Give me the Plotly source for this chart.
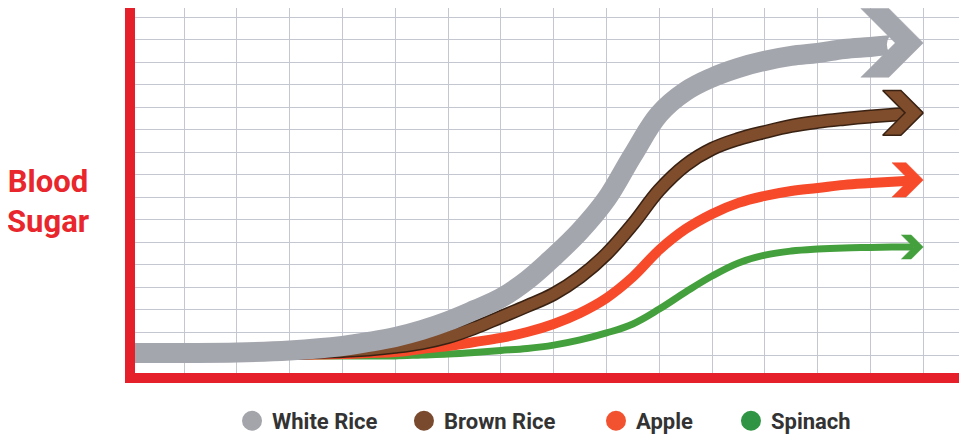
import plotly.graph_objects as go

# ---------------- data ----------------
TIME = [0, 1, 2, 3, 4, 4.5, 5, 5.5, 6, 6.5, 7, 7.5, 8, 8.5, 9, 9.5, 10,
        10.5, 11, 11.5, 12, 12.5, 13, 13.5, 14, 14.5, 15]

WHITE_RICE = [1.09, 1.09, 1.11, 1.20, 1.40, 1.58, 1.80, 2.11, 2.51, 3.00, 3.53, 4.33, 5.36,
              6.51, 7.93, 9.89, 11.71, 12.72, 13.33, 13.76, 14.07, 14.29, 14.42, 14.60,
              14.69, 14.80, 14.87]
BROWN_RICE = [1.09, 1.09, 1.09, 1.09, 1.18, 1.24, 1.36, 1.53, 1.80, 2.20, 2.69, 3.18, 3.71,
              4.47, 5.49, 6.82, 8.33, 9.44, 10.16, 10.60, 10.91, 11.18, 11.36, 11.49,
              11.60, 11.69, 11.76]
APPLE = [1.00, 1.00, 1.00, 1.00, 1.04, 1.09, 1.13, 1.27, 1.40, 1.58, 1.76, 2.02, 2.38,
         2.87, 3.53, 4.47, 5.67, 6.60, 7.27, 7.76, 8.07, 8.29, 8.42, 8.56, 8.64, 8.71, 8.78]
SPINACH = [0.96, 0.96, 0.96, 0.96, 0.96, 0.96, 0.96, 1.00, 1.04, 1.11, 1.20, 1.29, 1.44,
           1.67, 1.98, 2.38, 3.04, 3.80, 4.51, 5.09, 5.44, 5.62, 5.71, 5.76, 5.78, 5.80, 5.80]

SERIES_NAMES = ["White Rice", "Brown Rice", "Apple", "Spinach"]
SERIES_VALUES = [WHITE_RICE, BROWN_RICE, APPLE, SPINACH]
Y_LABEL = "Blood<br>Sugar"

# ---------------- layout / style ----------------
FIG_W, FIG_H = 967, 441
MARGIN = dict(l=127, r=0, t=0, b=76, autoexpand=False)
X_RANGE = [0.07, 15.98]
Y_RANGE = [0.2, 16.42]

PLOT_W = FIG_W - MARGIN["l"] - MARGIN["r"]
PLOT_H = FIG_H - MARGIN["t"] - MARGIN["b"]
PPX = PLOT_W / (X_RANGE[1] - X_RANGE[0])   # pixels per x unit
PPY = PLOT_H / (Y_RANGE[1] - Y_RANGE[0])   # pixels per y unit

STYLE = {
    "White Rice": dict(color="#a4a6ae", width=20, outline=None, legend="#a3a5ab"),
    "Brown Rice": dict(color="#7f4c2c", width=13, outline="#3a2213", legend="#7a4a2e"),
    "Apple": dict(color="#f64a2b", width=10, outline=None, legend="#f2522f"),
    "Spinach": dict(color="#44a03c", width=7, outline=None, legend="#2f9444"),
}
LEGEND_X = {"White Rice": 0.1155, "Brown Rice": 0.3202, "Apple": 0.5488, "Spinach": 0.7095}
LEGEND_IDS = {"White Rice": "legend", "Brown Rice": "legend2", "Apple": "legend3", "Spinach": "legend4"}

AXIS_RED = "#e5202a"
GRID = "#c4c7d0"
FONT = "Roboto, Liberation Sans, sans-serif"

fig = go.Figure()


def head_dims(w):
    return 1.72 * w, 1.72 * w, 1.4 * w   # half-height, front length, arm flat (px)


# draw back-to-front: spinach first, white rice on top
for name, vals in reversed(list(zip(SERIES_NAMES, SERIES_VALUES))):
    st = STYLE[name]
    w = st["width"]
    H, L, F = head_dims(w)
    xt, yt = TIME[-1], vals[-1]
    # shaft ends at the notch of the chevron head
    notch_x = xt - F / PPX
    frac = (notch_x - TIME[-2]) / (TIME[-1] - TIME[-2])
    notch_y = vals[-2] + frac * (vals[-1] - vals[-2])
    sx = TIME[:-1] + [notch_x]
    sy = vals[:-1] + [notch_y]
    if st["outline"]:
        fig.add_trace(go.Scatter(x=sx, y=sy, mode="lines", showlegend=False, hoverinfo="skip",
                                 line=dict(color=st["outline"], width=w + 1, shape="spline", smoothing=1.1)))
        fig.add_trace(go.Scatter(x=sx, y=sy, mode="lines", showlegend=False, hoverinfo="skip",
                                 line=dict(color=st["color"], width=w - 2, shape="spline", smoothing=1.1)))
    else:
        fig.add_trace(go.Scatter(x=sx, y=sy, mode="lines", showlegend=False, hoverinfo="skip",
                                 line=dict(color=st["color"], width=w, shape="spline", smoothing=1.1)))
    # chevron arrow head at the last data point
    pts = [(0, 0), (-L, H), (-L - F, H), (-F, 0), (-L - F, -H), (-L, -H), (0, 0)]
    hx = [xt + dx / PPX for dx, dy in pts]
    hy = [yt + dy / PPY for dx, dy in pts]
    fig.add_trace(go.Scatter(x=hx, y=hy, mode="lines", fill="toself", fillcolor=st["color"],
                             showlegend=False, hoverinfo="skip",
                             line=dict(color=st["outline"] or st["color"], width=1.5 if st["outline"] else 0.5)))

# legend entries (one small legend per food so each sits where the original places it)
legend_layouts = {}
for name in SERIES_NAMES:
    st = STYLE[name]
    lid = LEGEND_IDS[name]
    fig.add_trace(go.Scatter(x=[None], y=[None], mode="markers", name=name, legend=lid,
                             marker=dict(symbol="circle", size=16, color=st["legend"],
                                         line=dict(color=st["legend"], width=4))))
    legend_layouts[lid] = dict(orientation="h", x=LEGEND_X[name], y=-0.1315,
                               xanchor="left", yanchor="middle",
                               font=dict(family=FONT, size=22, color="#333333", weight="bold"),
                               bgcolor="rgba(0,0,0,0)", itemclick=False, itemdoubleclick=False)

fig.add_annotation(text=Y_LABEL, xref="paper", yref="paper", x=-0.1036, y=0.4685,
                   xanchor="center", yanchor="middle", showarrow=False, align="center",
                   font=dict(family=FONT, size=31, color="#e8262c", weight="bold"))

fig.update_xaxes(range=X_RANGE, dtick=1, tick0=0, showgrid=True, gridcolor=GRID, gridwidth=1,
                 showticklabels=False, ticks="", zeroline=False,
                 showline=True, linecolor=AXIS_RED, linewidth=10, fixedrange=True)
fig.update_yaxes(range=Y_RANGE, dtick=1, tick0=0, showgrid=True, gridcolor=GRID, gridwidth=1,
                 showticklabels=False, ticks="", zeroline=False,
                 showline=True, linecolor=AXIS_RED, linewidth=10, fixedrange=True)

fig.update_layout(
    width=FIG_W, height=FIG_H, margin=MARGIN,
    paper_bgcolor="white", plot_bgcolor="white",
    showlegend=True,
    **legend_layouts,
)

fig.write_html("out.html")
